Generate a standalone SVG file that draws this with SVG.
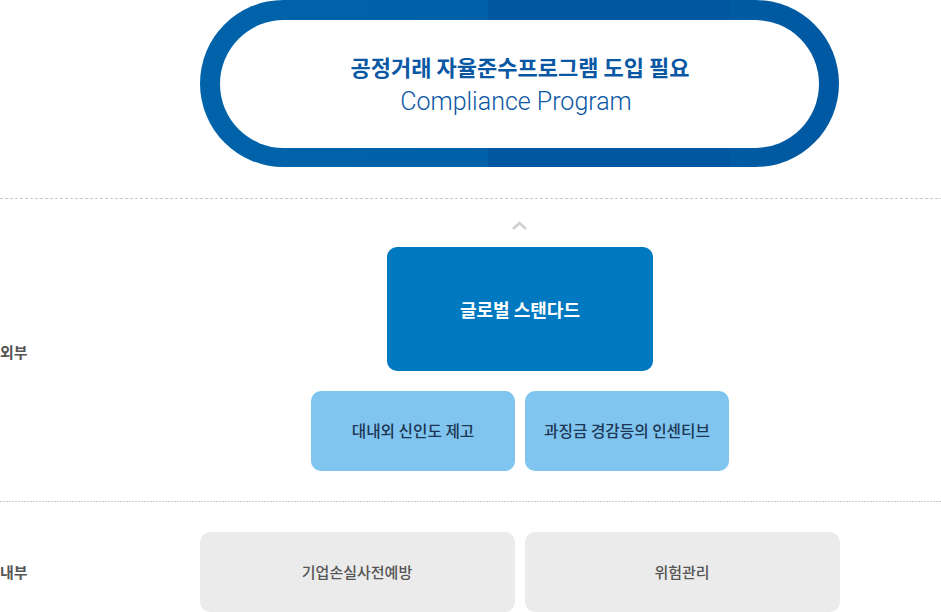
<svg xmlns="http://www.w3.org/2000/svg" width="941" height="612" viewBox="0 0 941 612">
<style>
.kr{font-family:"Noto Sans CJK KR","Noto Sans",sans-serif}
.side{font-size:15px;font-weight:bold;fill:#555}
.lb{fill:#80c5ef}
.lbt{font-size:15.7px;fill:#1d3654;font-weight:500}
.gr{fill:#ebebeb}
.grt{font-size:15px;fill:#555;font-weight:500}
</style>
<defs>
<linearGradient id="pg" x1="0" y1="0" x2="1" y2="0">
<stop offset="0" stop-color="#0063aa"/>
<stop offset="0.45" stop-color="#0061a8"/>
<stop offset="0.45" stop-color="#00579f"/>
<stop offset="0.83" stop-color="#0057a0"/>
<stop offset="0.83" stop-color="#005ba3"/>
<stop offset="1" stop-color="#0059a2"/>
</linearGradient>
</defs>
<rect width="941" height="612" fill="#fff"/>
<g id="lines">
<line x1="0" y1="198.5" x2="941" y2="198.5" stroke="#c8c8c8" stroke-dasharray="3 2"/>
<line x1="0" y1="501.5" x2="941" y2="501.5" stroke="#c8c8c8" stroke-dasharray="2 1"/>
</g>
<g id="title">
<rect x="200" y="0" width="639" height="167" rx="83.5" fill="url(#pg)"/>
<rect x="220" y="20" width="599" height="128" rx="64" fill="#fff"/>
<text x="520" y="76" text-anchor="middle" class="kr" font-size="22" font-weight="bold" fill="#0a58a4">공정거래 자율준수프로그램 도입 필요</text>
<text x="516" y="110" text-anchor="middle" font-family="Roboto,'Noto Sans',sans-serif" font-size="25" font-weight="300" fill="#0a58a4">Compliance Program</text>
</g>
<g id="connectors">
<polyline points="513,229 519.5,223 526,229" fill="none" stroke="#cfcfcf" stroke-width="2.5"/>
</g>
<g id="side-labels">
<text x="0" y="358" class="kr side">외부</text>
<text x="0" y="578" class="kr side">내부</text>
</g>
<g id="global">
<rect x="387" y="247" width="266" height="124" rx="10" fill="#0079c1"/>
<text x="520" y="317" text-anchor="middle" class="kr" font-size="18" font-weight="bold" fill="#fff">글로벌 스탠다드</text>
</g>
<g id="trust">
<rect class="lb" x="311" y="391" width="204" height="80" rx="10"/>
<text x="413" y="437" text-anchor="middle" class="kr lbt">대내외 신인도 제고</text>
</g>
<g id="incentive">
<rect class="lb" x="525" y="391" width="204" height="80" rx="10"/>
<text x="627" y="437" text-anchor="middle" class="kr lbt">과징금 경감등의 인센티브</text>
</g>
<g id="prevent">
<rect class="gr" x="200" y="532" width="315" height="80" rx="10"/>
<text x="357" y="578" text-anchor="middle" class="kr grt">기업손실사전예방</text>
</g>
<g id="risk">
<rect class="gr" x="525" y="532" width="315" height="80" rx="10"/>
<text x="682" y="578" text-anchor="middle" class="kr grt">위험관리</text>
</g>
</svg>
